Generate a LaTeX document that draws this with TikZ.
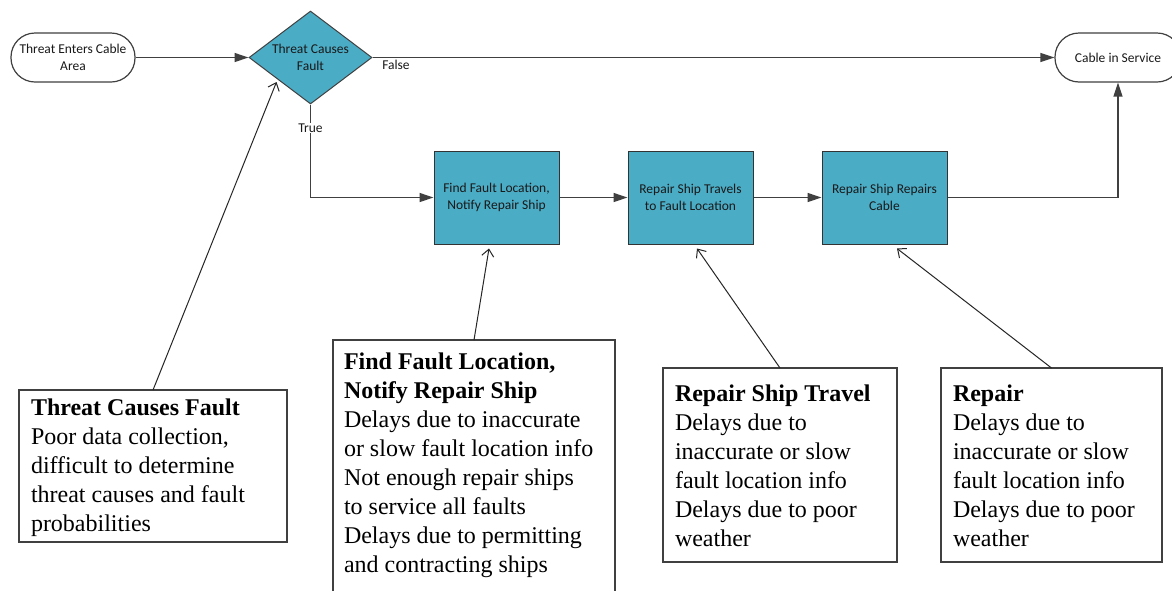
\documentclass[tikz,border=0pt]{standalone}
\usepackage{fontspec}
\setmainfont{Liberation Serif}
\newfontfamily\flowfont{Carlito}
\usetikzlibrary{arrows.meta,shapes.geometric,shadows}
\definecolor{flowteal}{HTML}{4BACC6}
\definecolor{flowline}{HTML}{404040}
% fixed-size, top-aligned text block for the annotation boxes
\newcommand\notepar[3]{\parbox[t][#2][t]{#1}{\raggedright\fontsize{24pt}{29pt}\selectfont #3}}
\begin{document}
\begin{tikzpicture}[x=1pt,y=-1pt,
  flowtext/.style={font=\flowfont\fontsize{13.5pt}{16.5pt}\selectfont, align=center, text=black!90},
  terminal/.style={flowtext, rectangle, rounded corners=24pt, draw=flowline, line width=1.2pt,
    fill=white, minimum width=124pt, minimum height=49pt, inner sep=0pt},
  decision/.style={flowtext, diamond, aspect=1.3, draw=flowline, line width=1pt, fill=flowteal,
    minimum width=123pt, minimum height=93pt, inner sep=0pt},
  process/.style={flowtext, rectangle, draw=black!80, line width=1pt, fill=flowteal,
    minimum width=125pt, minimum height=93pt, inner sep=0pt,
    drop shadow={shadow xshift=0.6pt, shadow yshift=-1.2pt, opacity=0.35}},
  flow/.style={draw=flowline, line width=1.3pt, -{Triangle[length=14pt,width=9pt]}},
  note/.style={draw=black!75, line width=1.2pt, fill=white, anchor=north west,
    outer sep=0pt, inner xsep=12pt},
  pointer/.style={draw=black!85, line width=1pt, -{Straight Barb[length=7pt,width=12pt]}},
  branch/.style={flowtext, fill=white, inner sep=1pt}]

\useasboundingbox (0,0) rectangle (1172,590);
\fill[white] (0,0) rectangle (1172,590);
\clip (0,0) rectangle (1172,590);

% main flow
\node[terminal] (start) at (73,57.5) {Threat Enters Cable\\Area};
\node[decision] (dia) at (310.5,57.5) {Threat Causes\\Fault};
\node[terminal, minimum width=126pt] (cis) at (1118,57.5) {Cable in Service};
\node[process] (find) at (496.5,197.5) {Find Fault Location,\\Notify Repair Ship};
\node[process] (travel) at (690.5,197.5) {Repair Ship Travels\\to Fault Location};
\node[process] (fix) at (884.5,197.5) {Repair Ship Repairs\\Cable};
\coordinate (up) at (1118,197.5);

\draw[flow] (start.east) -- (dia.west);
\draw[flow] (dia.east) -- (cis.west);
\draw[flow] (dia.south) |- (find.west);
\draw[flow] (find.east) -- (travel.west);
\draw[flow] (travel.east) -- (fix.west);
\draw[flow] (fix.east) -- (up) -- (cis.south);

\node[branch] (falselbl) at (396,65) {False};
\node[branch] (truelbl) at (310.5,128) {True};

% annotation boxes
\node[note, inner ysep=8.8pt] (noteA) at (19,390)
  {\notepar{244pt}{134.4pt}{\textbf{Threat Causes Fault}\\Poor data collection,\\difficult to determine\\threat causes and fault\\probabilities}};
\node[note, inner xsep=11pt, inner ysep=12.8pt] (noteB) at (333,340)
  {\notepar{260pt}{234.4pt}{\textbf{Find Fault Location,}\\\textbf{Notify Repair Ship}\\Delays due to inaccurate\\or slow fault location info\\Not enough repair ships\\to service all faults\\Delays due to permitting\\and contracting ships}};
\node[note, inner ysep=16.8pt] (noteC) at (663,368)
  {\notepar{210pt}{160.4pt}{\textbf{Repair Ship Travel}\\Delays due to\\inaccurate or slow\\fault location info\\Delays due to poor\\weather}};
\node[note, inner ysep=16.8pt] (noteD) at (941,368)
  {\notepar{197pt}{160.4pt}{\textbf{Repair}\\Delays due to\\inaccurate or slow\\fault location info\\Delays due to poor\\weather}};

\draw[pointer] (noteA.north) -- ([xshift=-3pt,yshift=-1pt]dia.south west);
\draw[pointer] (noteB.north) -- ([xshift=-7.5pt,yshift=-4pt]find.south);
\draw[pointer] (noteC.north) -- ([xshift=6.5pt,yshift=-4pt]travel.south);
\draw[pointer] (noteD.north) -- ([xshift=12.5pt,yshift=-4pt]fix.south);
\end{tikzpicture}
\end{document}
